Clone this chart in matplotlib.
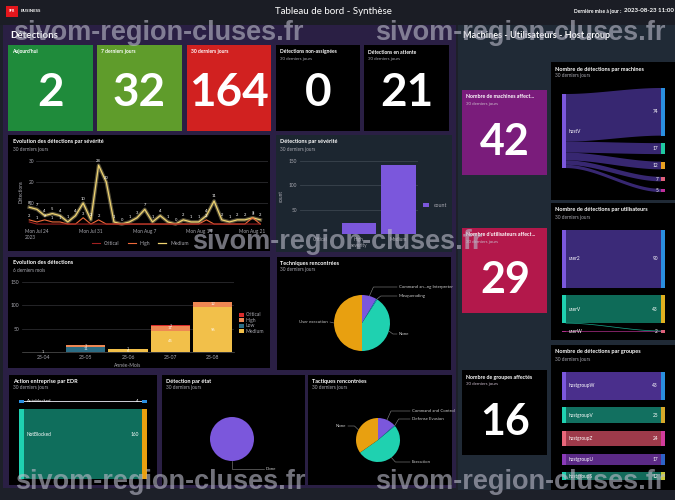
import matplotlib
matplotlib.use('Agg')
import matplotlib.pyplot as plt
import numpy as np
import pandas as pd
from matplotlib.patches import Rectangle, Polygon

plt.rcParams['font.family'] = ['Lato', 'DejaVu Sans']

# ---------------- data ----------------
kpi_titles = ["Aujourd'hui", "7 derniers jours", "30 derniers jours",
              "Détections non-assignées", "Détections en attente"]
kpi_subtitles = ["", "", "", "30 derniers jours", "30 derniers jours"]
kpi_values = [2, 32, 164, 0, 21]

dates = pd.date_range('2023-07-23', '2023-08-22', freq='D')
sev_critical = [1, 0, 0, 0, 0, 0, 0, 0, 0, 0, 0, 0, 0, 0, 0, 0,
                0, 0, 0, 0, 0, 0, 0, 0, 0, 0, 0, 0, 0, 0, 0]
sev_high = [2, 1, 2, 1, 1, 0, 0, 3, 0, 2, 0, 0, 0, 0, 0, 0,
            0, 0, 0, 0, 0, 0, 0, 2, 0, 0, 0, 0, 0, 3, 0]
sev_medium = [8, 7, 4, 5, 4, 1, 4, 10, 2, 28, 20, 1, 0, 1, 3, 7,
              1, 4, 1, 0, 2, 1, 1, 4, 11, 2, 1, 2, 2, 3, 2]
line_ticks = ['2023-07-24', '2023-07-31', '2023-08-07', '2023-08-14', '2023-08-21']
line_tick_labels = ['Mon Jul 24\n2023', 'Mon Jul 31', 'Mon Aug 7', 'Mon Aug 14', 'Mon Aug 21']

sev_categories = ['Critical', 'High', 'Medium']
sev_counts = [1, 22, 141]

months = ['23-04', '23-05', '23-06', '23-07', '23-08']
month_low = [0, 11, 0, 0, 0]
month_medium = [1, 0, 6, 45, 96]
month_high = [0, 3, 1, 11, 12]
month_critical = [0, 0, 0, 1, 0]

tech_labels = ['Command an...ng Interpreter', 'Masquerading', 'None', 'User execution']
tech_values = [14, 1, 67, 82]

tact_labels = ['Command and Control', 'Defense Evasion', 'Execution', 'None']
tact_values = [22, 1, 84, 57]

state_labels = ['Done']
state_values = [164]

edr_labels = ['Autoblocked', 'NotBlocked']
edr_values = [4, 160]

right_kpi_titles = ['Nombre de machines affect...', "Nombre d'utilisateurs affect...",
                    'Nombre de groupes affectés']
right_kpi_values = [42, 29, 16]

machine_source = 'hostV'
machine_values = [74, 17, 12, 7, 5]

user_labels = ['user2', 'userV', 'userW']
user_values = [90, 43, 2]

group_labels = ['hostgroupW', 'hostgroupV', 'hostgroupZ', 'hostgroupU', 'hostgroupS']
group_values = [43, 25, 24, 17, 12]

# ---------------- figure helpers ----------------
W, H = 675, 500
fig = plt.figure(figsize=(6.75, 5), dpi=100)
bg = fig.add_axes([0, 0, 1, 1], zorder=0)
bg.set_xlim(0, W); bg.set_ylim(H, 0); bg.axis('off')

GREY = '#a8a8b0'


def rect(x0, y0, x1, y1, color, ax=bg, **kw):
    ax.add_patch(Rectangle((x0, y0), x1 - x0, y1 - y0, facecolor=color,
                           edgecolor='none', **kw))


def txt(x, y, s, size=4, color='white', weight='normal', ha='left', va='center', ax=bg, **kw):
    ax.text(x, y, s, fontsize=size, color=color, fontweight=weight, ha=ha, va=va, **kw)


def pax(x0, y0, x1, y1, z=2):
    a = fig.add_axes([x0 / W, 1 - y1 / H, (x1 - x0) / W, (y1 - y0) / H], zorder=z)
    a.set_facecolor('none')
    return a


def band(x0, x1, y0t, y0b, y1t, y1b, color, alpha=1.0):
    t = np.linspace(0, 1, 60)
    s = 3 * t ** 2 - 2 * t ** 3
    xs = x0 + (x1 - x0) * t
    top = y0t + (y1t - y0t) * s
    bot = y0b + (y1b - y0b) * s
    verts = np.concatenate([np.column_stack([xs, top]),
                            np.column_stack([xs[::-1], bot[::-1]])])
    bg.add_patch(Polygon(verts, closed=True, facecolor=color, edgecolor='none', alpha=alpha))


def panel_title(x, y, title, sub=None):
    txt(x, y, title, size=4, weight='bold')
    if sub:
        txt(x, y + 7, sub, size=3.4, color=GREY)


# ---------------- backgrounds ----------------
rect(0, 0, W, H, '#1d2029')
rect(0, 0, W, 25, '#1b1d25')
rect(3, 25, 456, 488, '#2a1f44')
rect(458, 25, 675, 490, '#202a36')

# header
rect(6, 6, 18, 17, '#e4161c')
txt(12, 11.5, 'SFR', size=2.6, weight='bold', ha='center')
txt(21, 11.5, 'BUSINESS', size=3.2, weight='bold')
txt(333, 11, 'Tableau de bord - Synthèse', size=7, ha='center')
txt(621, 11, 'Dernière mise à jour :', size=3.6, weight='bold', ha='right')
txt(624, 10, '2023-08-23 11:00', size=4.4, weight='bold')

# section titles
txt(10, 35, 'Détections', size=7, weight='bold')
txt(463, 35, 'Machines - Utilisateurs - Host group', size=6.6, weight='bold')

# ---------------- KPI tiles ----------------
tile_x = [(8, 93), (97, 182), (187, 271), (276, 360), (364, 449)]
tile_colors = ['#1f8b3b', '#5f9c2b', '#d12120', '#000000', '#000000']
for (x0, x1), c, t, s, v in zip(tile_x, tile_colors, kpi_titles, kpi_subtitles, kpi_values):
    rect(x0, 45, x1, 131, c)
    txt(x0 + 4, 52, t, size=3.6, weight='bold')
    if s:
        txt(x0 + 4, 59, s, size=3.2, color=GREY)
    txt((x0 + x1) / 2, 93, str(v), size=33, weight='bold', ha='center')

# ---------------- panels ----------------
rect(8, 135, 270, 251, '#000000')
rect(276, 135, 452, 252, '#1c2630')
rect(8, 257, 270, 368, '#000000')
rect(277, 257, 451, 370, '#000000')
rect(9, 375, 157, 485, '#000000')
rect(162, 375, 305, 485, '#000000')
rect(308, 375, 452, 485, '#000000')

panel_title(13, 142, 'Evolution des détections par sévérité', '30 derniers jours')
panel_title(280, 142, 'Détections par sévérité', '30 derniers jours')
panel_title(13, 263, 'Evolution des détections', '6 derniers mois')
panel_title(280, 263, 'Techniques rencontrées', '30 derniers jours')
panel_title(13, 381, 'Action entreprise par EDR', '30 derniers jours')
panel_title(166, 381, 'Détection par état', '30 derniers jours')
panel_title(312, 381, 'Tactiques rencontrées', '30 derniers jours')

# ---- line chart ----
ax = pax(36, 156, 268, 227)
x0d = pd.Timestamp('2023-07-24') - pd.Timedelta(hours=3)
ax.set_xlim(x0d, pd.Timestamp('2023-08-23'))
ax.set_ylim(-1.4, 32.4)
ax.plot(dates, sev_medium, color='#f7e7a8', lw=2.6, alpha=0.35, clip_on=False, zorder=2)
l3, = ax.plot(dates, sev_medium, color='#f0d470', lw=0.9, clip_on=False, zorder=3, label='Medium')
l2, = ax.plot(dates, sev_high, color='#ee6a3a', lw=0.8, clip_on=False, zorder=4, label='High')
l1, = ax.plot(dates, sev_critical, color='#a02020', lw=0.8, clip_on=False, zorder=5, label='Critical')
for d, v in zip(dates, sev_medium):
    ax.text(d, v + 1.2, str(v), fontsize=3, color='white', ha='center', va='bottom', zorder=6)
for d, v in zip(dates, sev_high):
    if v > 0:
        ax.text(d, v + 1.0, str(v), fontsize=3, color='white', ha='center', va='bottom', zorder=6)
ax.set_yticks([10, 20, 30])
ax.set_xticks(pd.to_datetime(line_ticks))
ax.set_xticklabels(line_tick_labels, ha='center', multialignment='left')
ax.tick_params(axis='both', length=0, labelsize=3.4, labelcolor=GREY, pad=1.5)
ax.grid(axis='y', color='#333338', lw=0.5)
for sp in ax.spines.values():
    sp.set_visible(False)
ax.set_ylabel('Détections', fontsize=3.4, color=GREY, labelpad=3)
ax.legend(handles=[l1, l2, l3], loc='center', bbox_to_anchor=(0.45, -0.23), ncol=3,
          frameon=False, fontsize=3.6, labelcolor=GREY, handlelength=1.6, columnspacing=1.6)

# ---- bar chart severity ----
ax = pax(300, 158, 418, 234)
b = ax.bar(sev_categories, sev_counts, width=0.88, color='#7b57dc', label='count', zorder=3)
ax.set_xlim(-0.5, 2.5)
ax.set_ylim(0, 156)
ax.set_yticks([50, 100, 150])
ax.grid(axis='y', color='#3a444e', lw=0.6, zorder=0)
ax.tick_params(axis='both', length=0, labelsize=3.4, labelcolor=GREY, pad=2)
for sp in ax.spines.values():
    sp.set_visible(False)
ax.set_ylabel('count', fontsize=3.4, color=GREY, labelpad=4)
ax.set_xlabel('severity', fontsize=3.4, color=GREY, labelpad=1)
ax.legend(loc='center left', bbox_to_anchor=(1.0, 0.38), frameon=False, fontsize=3.8,
          labelcolor=GREY, handlelength=1.2, handleheight=1.0)

# ---- stacked monthly bars ----
ax = pax(22, 280, 234, 352)
mcols = {'Critical': '#d82b2b', 'High': '#ee8753', 'Low': '#2c6d85', 'Medium': '#f2c04a'}
bottom = np.zeros(len(months))
handles = {}
for name, vals in [('Low', month_low), ('Medium', month_medium),
                   ('High', month_high), ('Critical', month_critical)]:
    vals = np.array(vals, dtype=float)
    bars = ax.bar(months, vals, bottom=bottom, width=0.92, color=mcols[name], zorder=3)
    handles[name] = bars
    for i, v in enumerate(vals):
        if v > 0:
            ax.text(i, bottom[i] + v / 2, str(int(v)), fontsize=3, color='white',
                    ha='center', va='center', zorder=4, alpha=0.85)
    bottom += vals
ax.set_xlim(-0.5, 4.5)
ax.set_ylim(0, 154)
ax.set_yticks([50, 100, 150])
ax.grid(axis='y', color='#333338', lw=0.5, zorder=0)
ax.tick_params(axis='both', length=0, labelsize=3.6, labelcolor=GREY, pad=2)
for sp in ax.spines.values():
    sp.set_visible(False)
ax.spines['bottom'].set_visible(True)
ax.spines['bottom'].set_color('#555')
ax.spines['bottom'].set_linewidth(0.5)
ax.set_xlabel('Année-Mois', fontsize=3.6, color=GREY, labelpad=2)
ax.legend([handles[k] for k in ['Critical', 'High', 'Low', 'Medium']],
          ['Critical', 'High', 'Low', 'Medium'], loc='center left',
          bbox_to_anchor=(1.0, 0.4), frameon=False, fontsize=3.6, labelcolor=GREY,
          handlelength=1.0, handleheight=0.9, labelspacing=0.1, handletextpad=0.4)


# ---- pies ----
def draw_pie(box, values, labels, center, r, colors, label_pos):
    x0, y0, x1, y1 = box
    a = pax(x0, y0, x1, y1)
    cx, cy = center[0], H - center[1]
    wedges, _ = a.pie(values, colors=colors, startangle=90, counterclock=False,
                      center=(cx, cy), radius=r, wedgeprops=dict(linewidth=0))
    a.set_xlim(x0, x1)
    a.set_ylim(H - y1, H - y0)
    a.axis('off')
    for w, lab, pos in zip(wedges, labels, label_pos):
        if pos is None:
            continue
        ang = np.deg2rad((w.theta1 + w.theta2) / 2)
        px, py = cx + r * np.cos(ang), cy + r * np.sin(ang)
        tx, ty, ha = pos[0], H - pos[1], pos[2]
        sgn = 1 if ha == 'left' else -1
        kx = px + sgn * 4
        a.plot([px, kx, tx - sgn * 2], [py, ty, ty], color='#8a8a8a', lw=0.4, clip_on=False)
        a.text(tx, ty, lab, fontsize=3.2, color='#c8c8c8', ha=ha, va='center')
    return a


draw_pie((277, 257, 451, 370), tech_values, tech_labels, (362, 323), 28,
         ['#7b57dc', '#2a8fe0', '#1fd1b0', '#e8a010'],
         [(399, 287, 'left'), (399, 296, 'left'), (399, 334, 'left'), (328, 322, 'right')])

draw_pie((308, 375, 452, 485), tact_values, tact_labels, (378, 440), 22,
         ['#7b57dc', '#2a8fe0', '#1fd1b0', '#e8a010'],
         [(412, 411, 'left'), (412, 419, 'left'), (412, 462, 'left'), (346, 426, 'right')])

a = pax(162, 375, 305, 485)
a.pie(state_values, colors=['#7b57dc'], startangle=90, center=(232, H - 439), radius=22,
      wedgeprops=dict(linewidth=0))
a.set_xlim(162, 305); a.set_ylim(H - 485, H - 375); a.axis('off')
a.plot([232, 232, 264], [H - 461, H - 469, H - 469], color='#8a8a8a', lw=0.4)
a.text(266, H - 469, state_labels[0], fontsize=3.2, color='#c8c8c8', va='center')

# ---- EDR sankey ----
edr_scale = 0.44
yA = 400.5
hA = max(edr_values[0] * edr_scale, 1.2)
band(24, 142, yA, yA + hA, yA, yA + hA, '#c8c8d0')
rect(19, yA - 0.5, 24, yA + hA + 0.5, '#2a8fe0')
rect(142, yA - 0.5, 147, yA + hA + 0.5, '#2a8fe0')
txt(27, yA + 0.5, edr_labels[0], size=3.2)
txt(139, yA + 0.5, str(edr_values[0]), size=3.2, ha='right')
yB = 409
hB = edr_values[1] * edr_scale
band(24, 142, yB, yB + hB, yB, yB + hB, '#0f6e5c')
rect(19, yB, 24, yB + hB, '#1fd1b0')
rect(142, yB, 147, yB + hB, '#e8a010')
txt(27, yB + 25, edr_labels[1], size=3.4)
txt(139, yB + 25, str(edr_values[1]), size=3.4, ha='right')

# ---------------- right side ----------------
rk_y = [(90, 175), (228, 313), (370, 455)]
rk_colors = ['#7a1c7b', '#b3184b', '#000000']
for (y0, y1), c, t, v in zip(rk_y, rk_colors, right_kpi_titles, right_kpi_values):
    rect(462, y0, 547, y1, c)
    txt(466, y0 + 7, t, size=3.8, weight='bold')
    txt(466, y0 + 14, '30 derniers jours', size=3.2, color='#c8b8c8')
    txt(505, y0 + 52, str(v), size=31, weight='bold', ha='center')

rect(551, 62, 675, 200, '#000000')
rect(551, 203, 675, 340, '#000000')
rect(551, 345, 675, 490, '#000000')
panel_title(555, 69, 'Nombre de détections par machines', '30 derniers jours')
panel_title(555, 210, 'Nombre de détections par utilisateurs', '30 derniers jours')
panel_title(555, 352, 'Nombre de détections par groupes', '30 derniers jours')

S = 0.644   # px per detection
LX0, LX1, RX0, RX1 = 562, 566, 661, 665
GAP = 7.5

# machines
tot = sum(machine_values)
ly = 94
ry = 88
right_cols = ['#2a8fe0', '#1fc9a0', '#e8a020', '#e0607a', '#c02f9a']
cur_l = ly
for v, c in zip(machine_values, right_cols):
    h = v * S
    band(LX1, RX0, cur_l, cur_l + h, ry, ry + h, '#3b2a78', alpha=0.95)
    rect(RX0, ry, RX1, ry + h, c)
    txt(RX0 - 3, ry + h / 2, str(v), size=3.4, ha='right')
    cur_l += h
    ry += h + GAP
rect(LX0, ly, LX1, ly + tot * S, '#7b57dc')
txt(569, ly + tot * S / 2, machine_source, size=3.4)

# users
u_left = ['#7b57dc', '#1fd1b0', '#b0308a']
u_band = ['#3b2a78', '#0e6b58', '#7a2060']
u_right = ['#2a8fe0', '#e0b020', '#e0607a']
y = 230
for lab, v, cl, cb, cr in zip(user_labels, user_values, u_left, u_band, u_right):
    h = max(v * S, 1.3)
    band(LX1, RX0, y, y + h, y, y + h, cb)
    rect(LX0, y, LX1, y + h, cl)
    rect(RX0, y - (1 if v < 5 else 0), RX1, y + h + (1 if v < 5 else 0), cr)
    txt(569, y + h / 2, lab, size=3.4)
    txt(RX0 - 3, y + h / 2, str(v), size=3.4, ha='right')
    if lab == 'userV':
        yv_bottom = y + h
    y += h + GAP
# thin cross flow userV -> last node
t = np.linspace(0, 1, 40)
s_ = 3 * t ** 2 - 2 * t ** 3
bg.plot(LX1 + (RX0 - LX1) * t, yv_bottom + (y - GAP - 1 - yv_bottom) * s_,
        color='#1fd1b0', lw=0.5, alpha=0.8)

# groups
g_left = ['#7b57dc', '#1fd1b0', '#e8667a', '#8a3ab8', '#1fd1b0']
g_band = ['#4a2f8c', '#127060', '#9e3a4a', '#5b2a86', '#126a5a']
g_right = ['#2a8fe0', '#d6a92a', '#d23b9c', '#2d63c8', '#c9c93a']
y = 372
for lab, v, cl, cb, cr in zip(group_labels, group_values, g_left, g_band, g_right):
    h = v * S
    band(LX1, RX0, y, y + h, y, y + h, cb)
    rect(LX0, y, LX1, y + h, cl)
    rect(RX0, y, RX1, y + h, cr)
    txt(569, y + h / 2, lab, size=3.4)
    txt(RX0 - 3, y + h / 2, str(v), size=3.4, ha='right')
    y += h + GAP

# ---------------- watermark ----------------
ov = fig.add_axes([0, 0, 1, 1], zorder=20)
ov.set_xlim(0, W); ov.set_ylim(H, 0); ov.axis('off'); ov.set_facecolor('none')
wm = 'sivom-region-cluses.fr'
for cx, cy in [(158, 33), (520, 33), (337, 242), (160, 482), (520, 482)]:
    ov.text(cx, cy, wm, fontsize=19.5, family='Liberation Sans', fontweight='bold',
            color='#b8b8c6', alpha=0.62, ha='center', va='center')

fig.savefig('out.png', dpi=100, facecolor=fig.get_facecolor())
